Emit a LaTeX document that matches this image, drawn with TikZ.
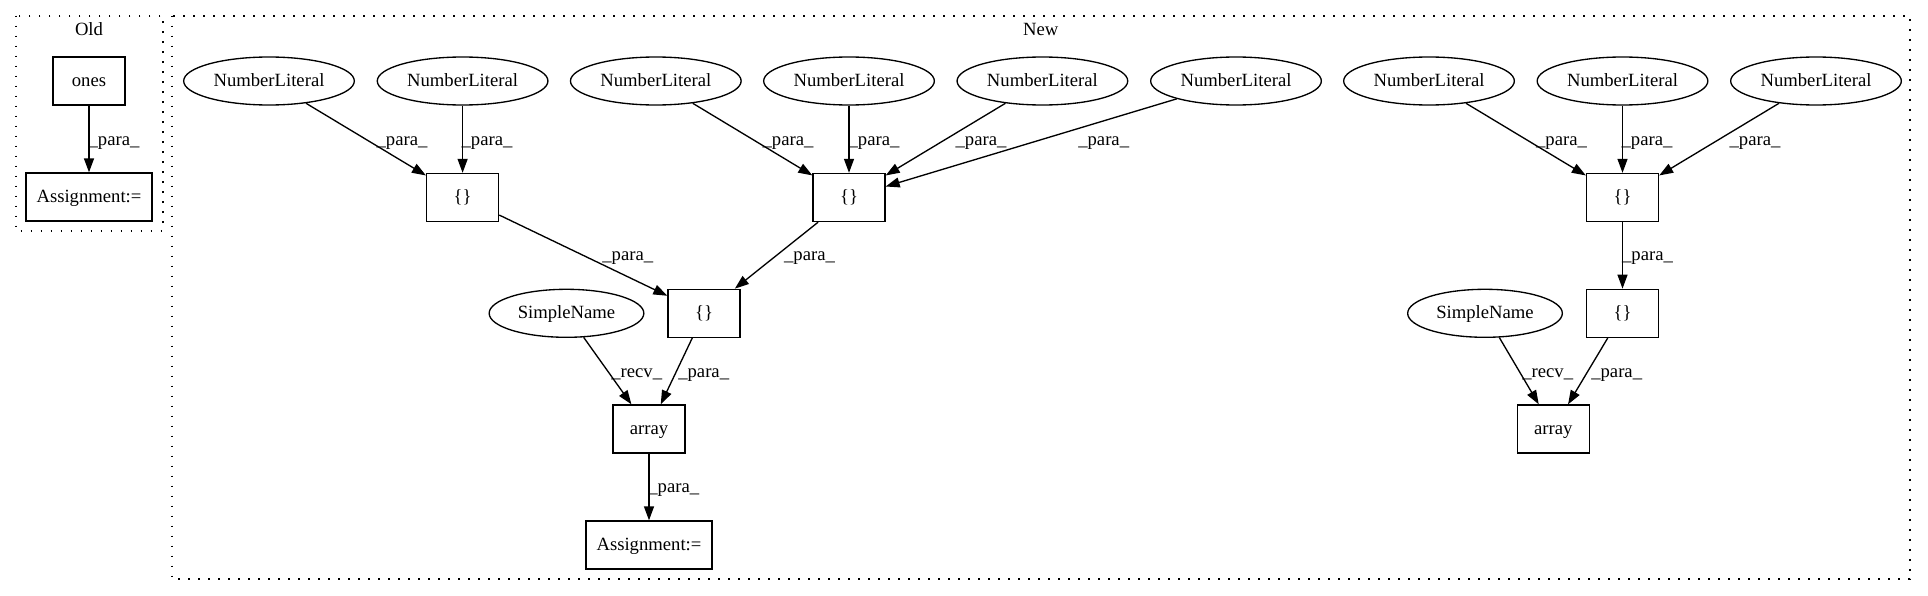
\documentclass[tikz,border=0pt]{standalone}
\usepackage{fontspec}
\setmainfont{Liberation Serif}
\usetikzlibrary{shapes.geometric,arrows.meta}
\tikzset{
  gvbox/.style={draw, line width=1pt, rectangle, inner sep=0pt, minimum width=54pt, minimum height=36pt, text height=10.5pt, text depth=2.5pt},
  widebox/.style={gvbox, minimum width=94.5pt},
  nlell/.style={draw, line width=1pt, ellipse, inner sep=0pt, minimum width=128pt, minimum height=36pt, text height=10.5pt, text depth=2.5pt},
  snell/.style={nlell, minimum width=116pt},
  edge/.style={draw, line width=1pt, -{Triangle[length=10.5pt,width=7.5pt]}},
  elabel/.style={inner sep=0pt, text height=10.5pt, text depth=2.5pt},
  cluster/.style={draw, line width=1.3pt, dash pattern=on 1.3pt off 6.2pt},
}
\begin{document}
\begin{tikzpicture}[x=0.75pt, y=-0.75pt, font=\fontsize{14}{16}\selectfont]
\useasboundingbox (0,0) rectangle (1928,596);
% clusters
\draw[cluster] (15.7,15.7) rectangle (163,230.7);
\node[elabel] (oldlbl) at (89,30) {Old};
\draw[cluster] (171.7,15.7) rectangle (1909.7,579.3);
\node[elabel] (newlbl) at (1040.7,30) {New};
% Old nodes
\node[gvbox] (ones) at (89,81) {ones};
\node[widebox] (asgold) at (89,197) {Assignment:=};
% New: top ellipses
\node[nlell] (nl1) at (269,81) {NumberLiteral};
\node[nlell] (nl2) at (462.6,81) {NumberLiteral};
\node[nlell] (nl3) at (655.8,81) {NumberLiteral};
\node[nlell] (nl4) at (849,81) {NumberLiteral};
\node[nlell] (nl5) at (1042.4,81) {NumberLiteral};
\node[nlell] (nl6) at (1236,81) {NumberLiteral};
\node[nlell] (nl7) at (1429,81) {NumberLiteral};
\node[nlell] (nl8) at (1622.5,81) {NumberLiteral};
\node[nlell] (nl9) at (1816,81) {NumberLiteral};
% braces
\node[gvbox] (b1) at (462.6,197.5) {\{\}};
\node[gvbox] (b2) at (849,197.5) {\{\}};
\node[gvbox] (b4) at (1622.5,197.5) {\{\}};
\node[gvbox] (b3) at (704,313.3) {\{\}};
\node[gvbox] (b5) at (1622.5,313.3) {\{\}};
% simple names, arrays, assignment
\node[snell] (sn1) at (566.5,313.3) {SimpleName};
\node[snell] (sn2) at (1485,313.3) {SimpleName};
\node[gvbox] (arr1) at (649,429) {array};
\node[gvbox] (arr2) at (1553.3,429) {array};
\node[widebox] (asg) at (649,545) {Assignment:=};
% edges
\draw[edge] (ones) -- (asgold);
\draw[edge] (nl1) -- (b1);
\draw[edge] (nl2) -- (b1);
\draw[edge] (nl3) -- (b2);
\draw[edge] (nl4) -- (b2);
\draw[edge] (nl5) -- (b2);
\draw[edge] (nl6) -- (b2);
\draw[edge] (b1) -- (b3);
\draw[edge] (b2) -- (b3);
\draw[edge] (sn1) -- (arr1);
\draw[edge] (b3) -- (arr1);
\draw[edge] (arr1) -- (asg);
\draw[edge] (nl7) -- (b4);
\draw[edge] (nl8) -- (b4);
\draw[edge] (nl9) -- (b4);
\draw[edge] (b4) -- (b5);
\draw[edge] (sn2) -- (arr2);
\draw[edge] (b5) -- (arr2);
% edge labels
\node[elabel] (l0) at (114,140) {\_para\_};
\node[elabel] (l1) at (402,140) {\_para\_};
\node[elabel] (l2) at (487,140) {\_para\_};
\node[elabel] (l3) at (788,140) {\_para\_};
\node[elabel] (l4) at (874,140) {\_para\_};
\node[elabel] (l5) at (981,140) {\_para\_};
\node[elabel] (l6) at (1103.7,140) {\_para\_};
\node[elabel] (l7) at (1561.5,140) {\_para\_};
\node[elabel] (l8) at (1647,140) {\_para\_};
\node[elabel] (l9) at (1755,140) {\_para\_};
\node[elabel] (l10) at (627.8,255) {\_para\_};
\node[elabel] (l11) at (809.5,255) {\_para\_};
\node[elabel] (l12) at (636.7,371.7) {\_recv\_};
\node[elabel] (l13) at (703.7,371.7) {\_para\_};
\node[elabel] (l14) at (673.8,486.7) {\_para\_};
\node[elabel] (l15) at (1647.5,255) {\_para\_};
\node[elabel] (l16) at (1547.7,371.7) {\_recv\_};
\node[elabel] (l17) at (1616.7,371.7) {\_para\_};
\end{tikzpicture}
\end{document}
